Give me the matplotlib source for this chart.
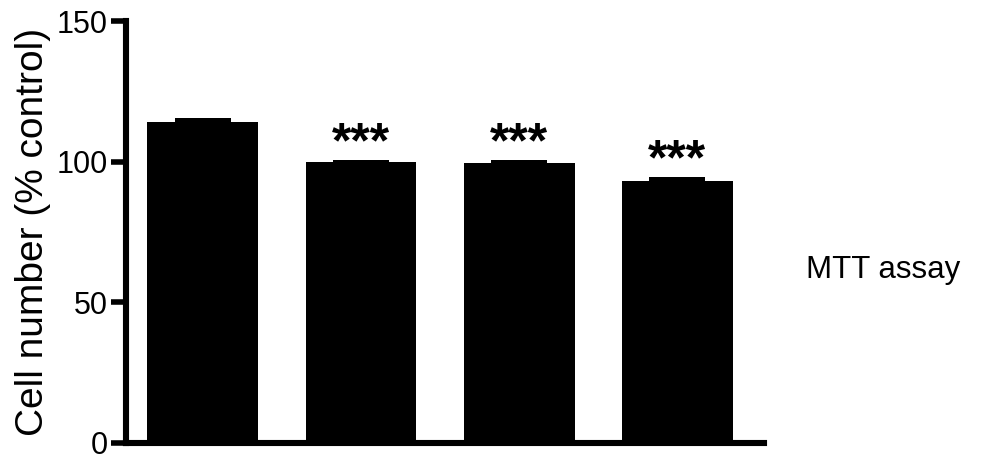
import matplotlib
matplotlib.use("Agg")
import matplotlib.pyplot as plt
import numpy as np

plt.rcParams['font.family'] = ['Liberation Sans', 'DejaVu Sans']

groups = ['Control', 'A', 'B', 'C']
values = [114.2, 99.9, 99.4, 93.1]
errors = [1.3, 0.7, 1.1, 1.5]
stars = ['', '***', '***', '***']

fig = plt.figure(figsize=[9.96, 4.59], dpi=100)
ax = fig.add_axes([0.1265, 0.035, 0.6405, 0.919])

x = np.arange(len(values))
ax.bar(x, values, width=0.70, color='black')
# SEM drawn as a narrow slab on top of each bar
ax.bar(x, errors, bottom=values, width=0.353, color='black')

for i in range(len(values)):
    if stars[i]:
        ax.text(x[i], values[i] + errors[i] + 0.9, stars[i], ha='center', va='baseline',
                fontsize=36, fontweight='bold')

ax.set_xlim(-0.485, 3.547)
ax.set_ylim(0, 150)
ax.set_yticks([0, 50, 100, 150])
ax.set_xticks([])
ax.tick_params(axis='y', labelsize=22, width=4, length=11, pad=2)
ax.set_ylabel('Cell number (% control)', fontsize=28, labelpad=4)

ax.spines[['right', 'top']].set_visible(False)
ax.spines['left'].set_linewidth(4.4)
ax.spines['bottom'].set_linewidth(4.4)

fig.text(0.887, 0.412, 'MTT assay', fontsize=22.5, ha='center', va='center')

plt.savefig('out.png', dpi=100)
